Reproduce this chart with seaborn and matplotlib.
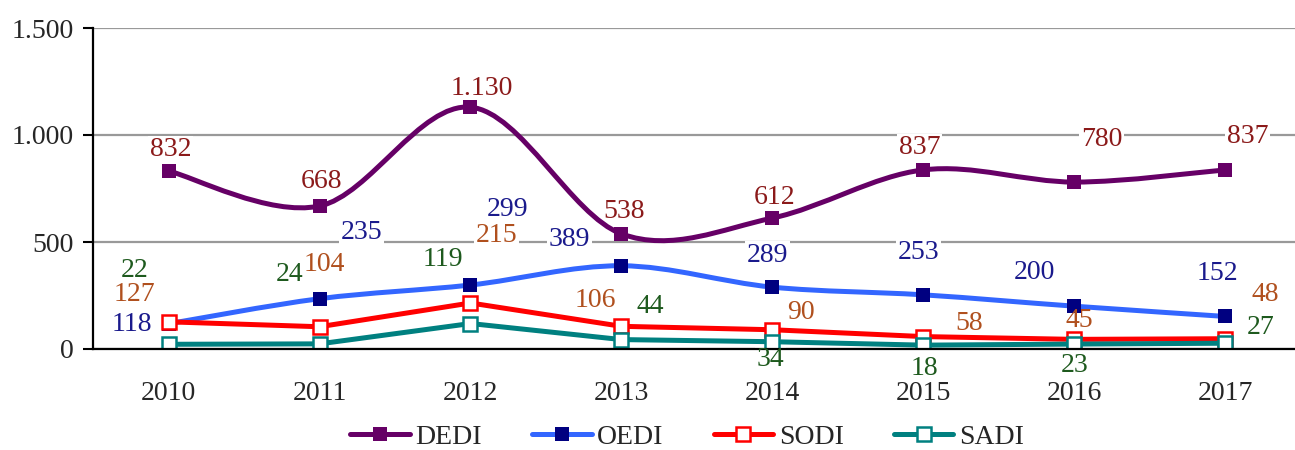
import numpy as np
import pandas as pd
import matplotlib
matplotlib.use("Agg")
import matplotlib.pyplot as plt
from matplotlib.path import Path
from matplotlib.patches import PathPatch
from matplotlib.lines import Line2D
import seaborn as sns

# data
years = ["2010", "2011", "2012", "2013", "2014", "2015", "2016", "2017"]
dedi = [832, 668, 1130, 538, 612, 837, 780, 837]
oedi = [118, 235, 299, 389, 289, 253, 200, 152]
sodi = [127, 104, 215, 106, 90, 58, 45, 48]
sadi = [22, 24, 119, 44, 34, 18, 23, 27]

# label offsets in pixels (dx, dy up)
DEDI_OFF = [(2, 21), (2, 25), (11, 19), (3, 22), (2, 21), (-4, 22), (27, 43), (22, 33)]
OEDI_OFF = [(-37, -1), (42, 66), (37, 76), (-52, 26), (-5, 32), (-5, 42), (-40, 34), (-8, 43)]
SODI_OFF = [(-34, 27), (5, 62), (26, 67), (-26, 26), (28, 17), (46, 13), (5, 19), (40, 44)]
SADI_OFF = [(-34, 74), (-30, 69), (-28, 64), (29, 33), (-2, -18), (1, -23), (0, -21), (35, 16)]

FONT = "Liberation Serif"
FS = 20

series = [
    # name, values, line color, marker face, marker edge, label color, smooth, offsets
    ("DEDI", dedi, "#660066", "#660066", "#660066", "#8b1a1a", True, DEDI_OFF),
    ("OEDI", oedi, "#3366ff", "#000080", "#000080", "#1a1a8c", True, OEDI_OFF),
    ("SODI", sodi, "#ff0000", "white", "#ff0000", "#b0501e", False, SODI_OFF),
    ("SADI", sadi, "#008080", "white", "#008080", "#1e5a1e", False, SADI_OFF),
]


def smooth_path(xs, ys):
    """Catmull-Rom style bezier through the points (Excel smoothed line)."""
    pts = np.column_stack([xs, ys]).astype(float)
    verts = [pts[0]]
    codes = [Path.MOVETO]
    n = len(pts)
    for i in range(n - 1):
        p0 = pts[max(i - 1, 0)]
        p1 = pts[i]
        p2 = pts[i + 1]
        p3 = pts[min(i + 2, n - 1)]
        c1 = p1 + (p2 - p0) / 6.0
        c2 = p2 - (p3 - p1) / 6.0
        verts += [c1, c2, p2]
        codes += [Path.CURVE4] * 3
    return Path(verts, codes)


sns.set_style("white")
plt.rcParams["font.family"] = [FONT, "DejaVu Serif"]

fig = plt.figure(figsize=(12.95, 4.5), dpi=100)
ax = fig.add_axes([93 / 1295, 101 / 450, 1208 / 1295, 321 / 450])

x = np.arange(len(years))

for name, vals, lc, mf, me, tc, smooth, offs in series:
    df = pd.DataFrame({"x": x, "y": vals})
    if smooth:
        patch = PathPatch(smooth_path(x, vals), fill=False, edgecolor=lc,
                          linewidth=3.6, capstyle="round", zorder=3)
        ax.add_patch(patch)
        sns.scatterplot(data=df, x="x", y="y", ax=ax, marker="s", s=110,
                        color=mf, edgecolor=me, linewidth=0, zorder=4)
    else:
        sns.lineplot(data=df, x="x", y="y", ax=ax, color=lc, linewidth=3.6,
                     marker="s", markersize=9.5, markerfacecolor=mf,
                     markeredgecolor=me, markeredgewidth=1.8, zorder=4)
    for xi, v, (dx, dy) in zip(x, vals, offs):
        txt = f"{v:,}".replace(",", ".")
        # white box under the label: hides gridlines, stays below the series
        ax.annotate(txt, (xi, v), xytext=(dx, dy), textcoords="offset pixels",
                    ha="center", va="center", fontsize=FS, color="none",
                    zorder=2,
                    bbox=dict(boxstyle="square,pad=0.05", fc="white", ec="none"))
        ax.annotate(txt, (xi, v), xytext=(dx, dy), textcoords="offset pixels",
                    ha="center", va="center", fontsize=FS, color=tc, zorder=6)

ax.set_xlim(-0.5, len(years) - 0.5)
ax.set_ylim(0, 1500)
ax.set_yticks([0, 500, 1000, 1500])
ax.set_yticklabels(["0", "500", "1.000", "1.500"])
ax.set_xticks(x)
ax.set_xticklabels(years)
ax.set_xticks(np.arange(-0.5, len(years)), minor=True)
ax.set_xlabel("")
ax.set_ylabel("")

ax.tick_params(axis="x", which="major", length=0, pad=23, labelsize=FS)
ax.tick_params(axis="x", which="minor", length=7, width=1.5, direction="out",
               color="black")
ax.tick_params(axis="y", length=7, width=1.5, direction="out", pad=7,
               labelsize=FS, color="black", left=True)

ax.grid(axis="y", color="#999999", linewidth=1.6)
ax.grid(axis="x", visible=False)
ax.set_axisbelow(True)
for s in ["top", "right"]:
    ax.spines[s].set_visible(False)
for s in ["left", "bottom"]:
    ax.spines[s].set_color("black")
    ax.spines[s].set_linewidth(1.6)
    ax.spines[s].set_zorder(5)

handles = [
    Line2D([0], [0], color=lc, linewidth=3.6, marker="s", markersize=9.5,
           markerfacecolor=mf, markeredgecolor=me,
           markeredgewidth=0 if smooth else 1.8, solid_capstyle="round")
    for name, vals, lc, mf, me, tc, smooth, offs in series
]
fig.legend(handles, [s[0] for s in series], loc="center",
           bbox_to_anchor=(687 / 1295, 13 / 450), ncol=4, frameon=False,
           fontsize=FS, handlelength=2.15, handletextpad=0.2,
           columnspacing=1.8, borderaxespad=0, borderpad=0)

fig.savefig("out.png", dpi=100)
plt.close(fig)
